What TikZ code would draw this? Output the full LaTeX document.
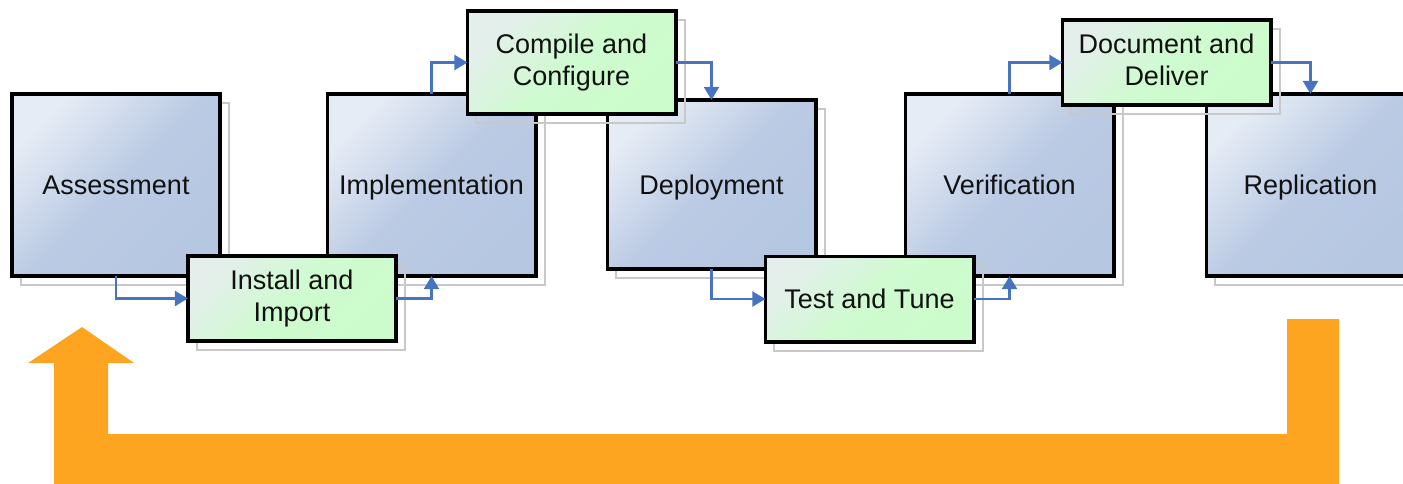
\documentclass[tikz,border=0pt]{standalone}
\usepackage{fontspec}
\setmainfont{Liberation Sans}
\usetikzlibrary{arrows.meta}
\definecolor{blueL}{HTML}{E6ECF5}
\definecolor{blueD}{HTML}{B6C7E2}
\definecolor{greenL}{HTML}{E4EFEC}
\definecolor{greenD}{HTML}{CCFCCC}
\definecolor{conncol}{HTML}{4674C1}
\definecolor{shadowcol}{HTML}{C8C8C8}
\definecolor{orangecol}{HTML}{FDA521}
\definecolor{textcol}{HTML}{111111}
\begin{document}
\begin{tikzpicture}[x=1pt,y=-1pt,
  box/.style={rectangle, draw=black, line width=3.8pt, inner sep=0pt, outer sep=0pt,
    text=textcol, font=\fontsize{27}{32.5}\selectfont, align=center,
    preaction={draw=shadowcol, line width=2pt, transform canvas={shift={(9,9)}}}},
  bluebox/.style={box, minimum width=208.2pt, minimum height=182.2pt,
    top color=blueL, bottom color=blueD, middle color=blueD!90!blueL, shading angle=45,
    text height=19.4pt, text depth=0pt},
  greenbox/.style={box, minimum width=208.2pt, minimum height=85.2pt,
    top color=greenL, bottom color=greenD, middle color=greenD!90!greenL, shading angle=45},
  conn/.style={draw=conncol, line width=2.3pt, -{Triangle[length=13pt, width=15pt]}}
]
\useasboundingbox (0,0) rectangle (1403,483);
\clip (0,0) rectangle (1403,483);
% blue stage boxes
\node[bluebox] (assess) at (116,185) {Assessment};
\node[bluebox] (impl) at (431.5,185) {Implementation};
\node[bluebox, minimum height=169.2pt] (deploy) at (711.5,184.5) {Deployment};
\node[bluebox] (verif) at (1009.5,185) {Verification};
\node[bluebox] (repl) at (1310.5,185) {Replication};
% green step boxes
\node[greenbox] (install) at (292,298.5) {Install and\\Import};
\node[greenbox, minimum height=103.2pt] (compile) at (571.5,62.5) {Compile and\\Configure};
\node[greenbox, text height=19.4pt, text depth=0pt] (test) at (869.5,299) {Test and Tune};
\node[greenbox] (doc) at (1166.5,62.5) {Document and\\Deliver\vphantom{p}};
% connectors
\draw[conn] (assess.south) |- (install.west);
\draw[conn] (install.east) -| (impl.south);
\draw[conn] (impl.north) |- (compile.west);
\draw[conn] (compile.east) -| (deploy.north);
\draw[conn] (deploy.south) |- (test.west);
\draw[conn] (test.east) -| (verif.south);
\draw[conn] (verif.north) |- (doc.west);
\draw[conn] (doc.east) -| (repl.north);
% orange return arrow
\fill[orangecol] (1287,319) -- (1339,319) -- (1339,486) -- (54,486) -- (54,363)
  -- (28,363) -- (82,327) -- (134,363) -- (108,363) -- (108,434) -- (1287,434) -- cycle;
\end{tikzpicture}
\end{document}
